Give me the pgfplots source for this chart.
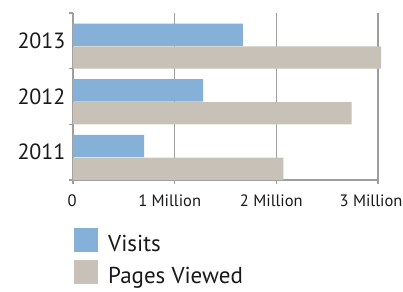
\documentclass[border=0pt]{standalone}
\usepackage{fontspec}
\setmainfont{PT Sans}
\usepackage{pgfplots}
\pgfplotsset{compat=1.18}
\definecolor{visits}{RGB}{133,177,217}
\definecolor{pages}{RGB}{200,193,183}
\definecolor{gridc}{RGB}{158,158,158}
\begin{document}
\begin{tikzpicture}[x=1pt,y=1pt]
\path[use as bounding box] (-73,-111) rectangle (330,180);
\begin{axis}[
 at={(0,0)}, anchor=south west,
 scale only axis, width=305pt, height=167pt,
 xbar, xmin=0, xmax=3, ymin=-0.5, ymax=2.5, clip=false,
 axis x line*=bottom, axis y line*=left,
 axis line style={-, gridc, line width=1.2pt},
 xtick={0,1,2,3}, xticklabels={\hspace*{8pt}0,1 Million,2 Million,3 Million\hspace*{4pt}},
 ytick={0,1,2}, yticklabels={2011,2012,2013},
 minor ytick={-0.5,0.5,1.5,2.5},
 tick align=outside, major tick length=4pt, minor tick length=4pt,
 major x tick style={gridc, line width=1.2pt},
 major y tick style={draw=none},
 minor y tick style={gridc, line width=1.2pt},
 xmajorgrids, major x grid style={gridc, line width=1.2pt},
 xticklabel style={font=\fontsize{16.5}{16.5}\selectfont, text=black!90, xshift=-5pt, yshift=-7pt},
 yticklabel style={font=\fontsize{22}{22}\selectfont, text=black!90},
 legend style={draw=none, fill=none, at={(0,0)}, anchor=north west, yshift=-46pt, xshift=-2pt,
   font=\fontsize{23}{23}\selectfont, text=black!90, row sep=8pt, column sep=10pt,
   nodes={inner sep=0pt, text height=23pt, text depth=1pt}},
 legend cell align=left,
 legend image code/.code={\fill[#1] (0pt,-12pt) rectangle (24pt,12pt);},
]
\addplot[xbar, bar width=0.4, bar shift=0.11, fill=visits, draw=none] coordinates {(0.70,0) (1.28,1) (1.67,2)};
\addplot[xbar, bar width=0.4, bar shift=-0.30, fill=pages, draw=none] coordinates {(2.07,0) (2.74,1) (3.03,2)};
\legend{Visits, Pages Viewed}
\end{axis}
\end{tikzpicture}
\end{document}
